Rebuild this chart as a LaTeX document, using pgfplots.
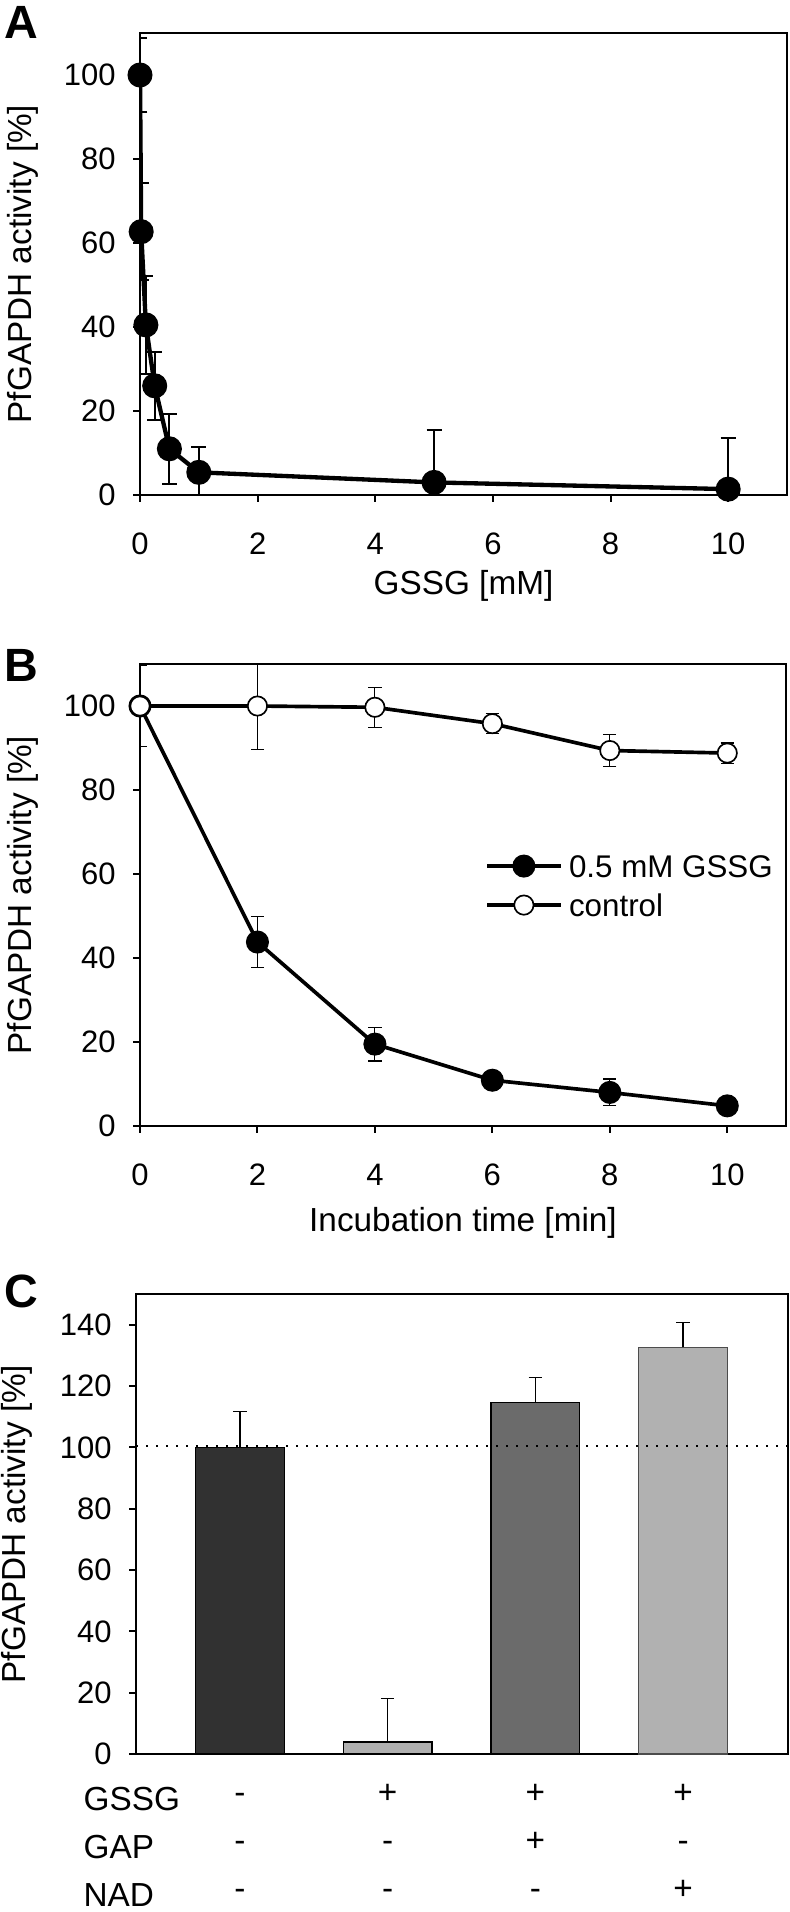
\documentclass[border=0pt]{standalone}
\usepackage{pgfplots}
\pgfplotsset{compat=1.18}
\usepackage{fontspec}
\setmainfont{Liberation Sans}
\newcommand\tl[3]{\begin{tabular}[t]{@{}c@{}}#1\\#2\\#3\end{tabular}}
\definecolor{cA}{HTML}{313131}
\definecolor{cB}{HTML}{B0B0B0}
\definecolor{cC}{HTML}{6B6B6B}
\definecolor{cD}{HTML}{B1B1B1}
\pgfplotsset{
  common/.style={
    scale only axis,
    tick pos=left,
    tick align=outside,
    major tick length=2pt,
    tick style={line width=0.6pt, black},
    axis line style={line width=0.6pt},
    /pgf/number format/assume math mode=true,
    ticklabel style={font=\fontsize{9.3}{10}\selectfont, inner sep=0pt},
    yticklabel style={anchor=east, xshift=-5.1pt},
    xticklabel style={anchor=north, yshift=-9.3pt},
    label style={font=\fontsize{10}{12}\selectfont},
    ylabel={PfGAPDH activity [\%]},
  }
}
\begin{document}
\begin{tikzpicture}
\useasboundingbox (0,0) rectangle (237pt,-573.6pt);
% ---------------- A
\begin{axis}[common, at={(42pt,-9.9pt)}, anchor=north west,
  width=194.1pt, height=138.6pt,
  xmin=0, xmax=11, ymin=0, ymax=110,
  xtick={0,2,...,10}, ytick={0,20,...,100},
  xlabel={GSSG [mM]},
  xlabel style={at={(axis description cs:0.5,-0.197)}, anchor=center},
  ylabel style={at={(axis description cs:-0.1808,0.5)}, anchor=center}]
\addplot[black, line width=1.3pt, mark=*, mark size=3.1pt, mark options={fill=black, solid},
  error bars/.cd, y dir=both, y explicit,
  error bar style={line width=0.6pt, black},
  error mark options={rotate=90, line width=0.6pt, mark size=2.25pt, black}]
  table[x=x, y=y, y error=e, row sep=\\] {
  x y e \\
  0 100 8.9 \\
  0.02 62.7 11.5 \\
  0.1 40.5 11.7 \\
  0.25 26.0 8.1 \\
  0.5 11.0 8.3 \\
  1 5.4 6.0 \\
  5 3.0 12.4 \\
  10 1.4 12.1 \\
};
\end{axis}
% ---------------- B
\begin{axis}[common, at={(42pt,-199.2pt)}, anchor=north west,
  width=193.8pt, height=138.6pt,
  xmin=0, xmax=11, ymin=0, ymax=110,
  xtick={0,2,...,10}, ytick={0,20,...,100},
  xlabel={Incubation time [min]},
  xlabel style={at={(axis description cs:0.5,-0.209)}, anchor=center},
  ylabel style={at={(axis description cs:-0.1808,0.5)}, anchor=center},
  legend style={draw=none, fill=none, at={(axis cs:5.87,57.25)}, anchor=west,
    font=\fontsize{9.4}{11}\selectfont, inner sep=0pt, row sep=0.7pt,
    nodes={inner sep=2pt, text height=7pt, text depth=0pt}},
  legend cell align=left,
  legend image code/.code={\draw[mark repeat=2, mark phase=2, #1] plot coordinates {(0pt,0pt) (11pt,0pt) (22pt,0pt)};}]
\addplot[black, line width=1.1pt, mark=*, mark size=2.9pt, mark options={fill=black, solid},
  error bars/.cd, y dir=both, y explicit,
  error bar style={line width=0.35pt, black},
  error mark options={rotate=90, line width=0.35pt, mark size=2pt, black}]
  table[x=x, y=y, y error=e, row sep=\\] {
  x y e \\
  0 100 9.7 \\
  2 43.8 6.0 \\
  4 19.5 4.0 \\
  6 10.9 1.5 \\
  8 8.0 3.2 \\
  10 4.8 1.0 \\
};
\addlegendentry{0.5 mM GSSG}
\addplot[black, line width=1.1pt, mark=*, mark size=2.9pt, mark options={fill=white, draw=black, solid, line width=0.5pt},
  error bars/.cd, y dir=both, y explicit,
  error bar style={line width=0.35pt, black},
  error mark options={rotate=90, line width=0.35pt, mark size=2pt, black}]
  table[x=x, y=y, y error=e, row sep=\\] {
  x y e \\
  0 100 0 \\
  2 100 10.4 \\
  4 99.7 4.8 \\
  6 95.8 2.4 \\
  8 89.4 3.8 \\
  10 88.8 2.4 \\
};
\addlegendentry{control}
\end{axis}
% ---------------- C
\begin{axis}[common, at={(40.8pt,-388.2pt)}, anchor=north west,
  width=195.6pt, height=138pt,
  xmin=0.297, xmax=4.71, ymin=0, ymax=150,
  ytick={0,20,...,140},
  xtick={1,2,3,4}, xtick style={draw=none},
  xticklabels={\tl{-}{-}{-},\tl{+}{-}{-},\tl{+}{+}{-},\tl{+}{-}{+}},
  xticklabel style={anchor=base, yshift=-3.6pt, font=\fontsize{10}{14.4}\selectfont},
  ylabel style={at={(axis description cs:-0.1825,0.5)}, anchor=center}]
\addplot[ybar, bar width=0.6, bar shift=0pt, fill=cA, draw=black, line width=0.4pt,
  error bars/.cd, y dir=plus, y explicit, error bar style={line width=0.4pt, black},
  error mark options={rotate=90, line width=0.4pt, mark size=2pt, black}]
  coordinates {(1,100) +- (0,11.7)};
\addplot[ybar, bar width=0.6, bar shift=0pt, fill=cB, draw=black, line width=0.4pt,
  error bars/.cd, y dir=plus, y explicit, error bar style={line width=0.4pt, black},
  error mark options={rotate=90, line width=0.4pt, mark size=2pt, black}]
  coordinates {(2,3.9) +- (0,14.1)};
\addplot[ybar, bar width=0.6, bar shift=0pt, fill=cC, draw=black, line width=0.4pt,
  error bars/.cd, y dir=plus, y explicit, error bar style={line width=0.4pt, black},
  error mark options={rotate=90, line width=0.4pt, mark size=2pt, black}]
  coordinates {(3,114.6) +- (0,8.2)};
\addplot[ybar, bar width=0.6, bar shift=0pt, fill=cD, draw=black!70, line width=0.4pt,
  error bars/.cd, y dir=plus, y explicit, error bar style={line width=0.4pt, black},
  error mark options={rotate=90, line width=0.4pt, mark size=2pt, black}]
  coordinates {(4,132.6) +- (0,8.1)};
\addplot[black, line width=0.7pt, dash pattern=on 0.7pt off 2.3pt] coordinates {(0.297,100.4) (4.71,100.4)};
\end{axis}
% ---------------- panel letters and table labels
\node[anchor=base west, inner sep=0pt, font={\fontsize{14}{16}\selectfont\bfseries}] at (1.2pt,-11.4pt) {A};
\node[anchor=base west, inner sep=0pt, font={\fontsize{14}{16}\selectfont\bfseries}] at (1.2pt,-204.3pt) {B};
\node[anchor=base west, inner sep=0pt, font={\fontsize{14}{16}\selectfont\bfseries}] at (1.2pt,-392.1pt) {C};
\node[anchor=base west, inner sep=0pt, font={\fontsize{10}{12}\selectfont}] at (24.9pt,-543pt) {GSSG};
\node[anchor=base west, inner sep=0pt, font={\fontsize{10}{12}\selectfont}] at (24.9pt,-557.4pt) {GAP};
\node[anchor=base west, inner sep=0pt, font={\fontsize{10}{12}\selectfont}] at (24.9pt,-571.8pt) {NAD};
\end{tikzpicture}
\end{document}
